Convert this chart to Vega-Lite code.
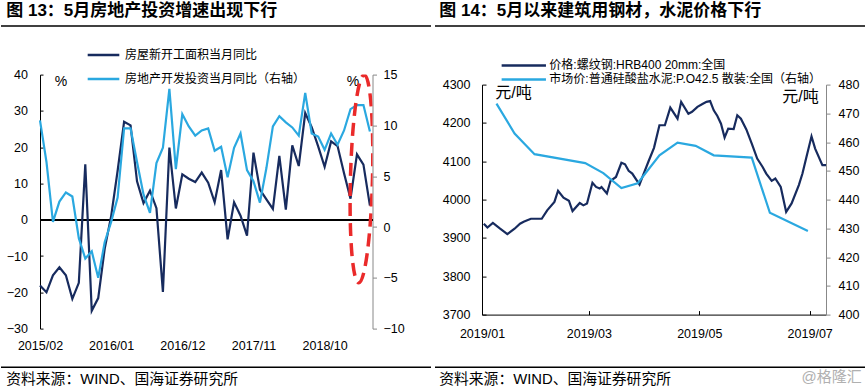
{
  "$schema": "https://vega.github.io/schema/vega-lite/v6.json",
  "background": "white",
  "padding": {"left": 0, "top": 2, "right": 0, "bottom": 0},
  "config": {
    "font": "Liberation Sans, Noto Sans CJK SC, sans-serif",
    "view": {"stroke": null},
    "axis": {"grid": false, "labelOverlap": false, "labelFontSize": 12.5, "labelColor": "#000", "domainColor": "#000", "tickColor": "#000", "titleFontWeight": "normal", "titleColor": "#000", "labelFont": "Liberation Sans, Noto Sans CJK SC, sans-serif", "titleFont": "Liberation Sans, Noto Sans CJK SC, sans-serif"},
    "legend": {"labelFont": "Liberation Sans, Noto Sans CJK SC, sans-serif", "labelColor": "#000"},
    "title": {"font": "Liberation Sans, Noto Sans CJK SC, sans-serif", "color": "#000"}
  },
  "datasets": {
    "d13": [
      {"m": "2015/02", "a": -18.1, "b": 10.5},
      {"m": "2015/03", "a": -20.0, "b": 6.4},
      {"m": "2015/04", "a": -15.3, "b": 0.5},
      {"m": "2015/05", "a": -13.1, "b": 2.5},
      {"m": "2015/06", "a": -15.3, "b": 3.4},
      {"m": "2015/07", "a": -21.8, "b": 3.0},
      {"m": "2015/08", "a": -17.4, "b": -1.1},
      {"m": "2015/09", "a": 15.3, "b": -3.1},
      {"m": "2015/10", "a": -25.1, "b": -2.4},
      {"m": "2015/11", "a": -21.6, "b": -5.0},
      {"m": "2015/12", "a": -8.0, "b": -1.5},
      {"m": "2016/01", "a": 1.0, "b": 0.5},
      {"m": "2016/02", "a": 13.5, "b": 2.9},
      {"m": "2016/03", "a": 27.0, "b": 9.7},
      {"m": "2016/04", "a": 26.0, "b": 9.7},
      {"m": "2016/05", "a": 10.6, "b": 6.4},
      {"m": "2016/06", "a": 4.6, "b": 3.2},
      {"m": "2016/07", "a": 8.0, "b": 1.4},
      {"m": "2016/08", "a": 3.2, "b": 6.3},
      {"m": "2016/09", "a": -19.9, "b": 7.8},
      {"m": "2016/10", "a": 19.9, "b": 13.6},
      {"m": "2016/11", "a": 3.1, "b": 5.7},
      {"m": "2016/12", "a": 12.5, "b": 11.1},
      {"m": "2017/01", "a": 11.3, "b": 9.9},
      {"m": "2017/02", "a": 10.4, "b": 9.0},
      {"m": "2017/03", "a": 13.0, "b": 9.5},
      {"m": "2017/04", "a": 10.2, "b": 9.7},
      {"m": "2017/05", "a": 4.8, "b": 7.5},
      {"m": "2017/06", "a": 13.7, "b": 7.9},
      {"m": "2017/07", "a": -5.4, "b": 4.9},
      {"m": "2017/08", "a": 4.8, "b": 7.8},
      {"m": "2017/09", "a": 1.1, "b": 9.2},
      {"m": "2017/10", "a": -4.4, "b": 5.6},
      {"m": "2017/11", "a": 18.5, "b": 4.5},
      {"m": "2017/12", "a": 8.3, "b": 2.4},
      {"m": "2018/01", "a": 5.6, "b": 5.8},
      {"m": "2018/02", "a": 3.0, "b": 9.9},
      {"m": "2018/03", "a": 17.6, "b": 10.9},
      {"m": "2018/04", "a": 2.8, "b": 10.3},
      {"m": "2018/05", "a": 20.5, "b": 9.8},
      {"m": "2018/06", "a": 14.8, "b": 9.0},
      {"m": "2018/07", "a": 29.4, "b": 13.2},
      {"m": "2018/08", "a": 25.5, "b": 9.2},
      {"m": "2018/09", "a": 20.2, "b": 8.9},
      {"m": "2018/10", "a": 14.6, "b": 7.6},
      {"m": "2018/11", "a": 21.6, "b": 9.2},
      {"m": "2018/12", "a": 20.3, "b": 8.1},
      {"m": "2019/01", "a": 12.8, "b": 9.5},
      {"m": "2019/02", "a": 5.8, "b": 11.6},
      {"m": "2019/03", "a": 18.0, "b": 12.0},
      {"m": "2019/04", "a": 15.2, "b": 12.0},
      {"m": "2019/05", "a": 3.9, "b": 9.4}
    ],
    "anno13": [{"m": "2019/03", "v": 4.75}],
    "rebar": [
      {"d": "2019-01-02", "v": 3937}, {"d": "2019-01-04", "v": 3927}, {"d": "2019-01-07", "v": 3939},
      {"d": "2019-01-11", "v": 3924}, {"d": "2019-01-15", "v": 3910}, {"d": "2019-01-19", "v": 3924},
      {"d": "2019-01-22", "v": 3937}, {"d": "2019-01-24", "v": 3942}, {"d": "2019-01-28", "v": 3950},
      {"d": "2019-02-03", "v": 3950}, {"d": "2019-02-06", "v": 3972}, {"d": "2019-02-10", "v": 3994},
      {"d": "2019-02-12", "v": 4023}, {"d": "2019-02-15", "v": 4005}, {"d": "2019-02-18", "v": 3997},
      {"d": "2019-02-20", "v": 3970}, {"d": "2019-02-24", "v": 3991}, {"d": "2019-02-26", "v": 3985},
      {"d": "2019-02-28", "v": 3990}, {"d": "2019-03-03", "v": 4044}, {"d": "2019-03-05", "v": 4033},
      {"d": "2019-03-07", "v": 4029}, {"d": "2019-03-08", "v": 4033}, {"d": "2019-03-11", "v": 4016},
      {"d": "2019-03-13", "v": 4049}, {"d": "2019-03-16", "v": 4059}, {"d": "2019-03-19", "v": 4096},
      {"d": "2019-03-21", "v": 4092}, {"d": "2019-03-23", "v": 4075}, {"d": "2019-03-25", "v": 4068},
      {"d": "2019-03-29", "v": 4039}, {"d": "2019-03-31", "v": 4064}, {"d": "2019-04-03", "v": 4100},
      {"d": "2019-04-06", "v": 4135}, {"d": "2019-04-09", "v": 4194}, {"d": "2019-04-12", "v": 4194},
      {"d": "2019-04-15", "v": 4240}, {"d": "2019-04-19", "v": 4211}, {"d": "2019-04-21", "v": 4255},
      {"d": "2019-04-25", "v": 4224}, {"d": "2019-04-27", "v": 4229}, {"d": "2019-04-30", "v": 4242},
      {"d": "2019-05-03", "v": 4250}, {"d": "2019-05-05", "v": 4255}, {"d": "2019-05-07", "v": 4257},
      {"d": "2019-05-09", "v": 4233}, {"d": "2019-05-11", "v": 4218}, {"d": "2019-05-13", "v": 4198},
      {"d": "2019-05-15", "v": 4162}, {"d": "2019-05-17", "v": 4185}, {"d": "2019-05-20", "v": 4184},
      {"d": "2019-05-22", "v": 4220}, {"d": "2019-05-24", "v": 4211}, {"d": "2019-05-27", "v": 4183},
      {"d": "2019-05-30", "v": 4146}, {"d": "2019-06-02", "v": 4107}, {"d": "2019-06-05", "v": 4085},
      {"d": "2019-06-07", "v": 4068}, {"d": "2019-06-10", "v": 4049}, {"d": "2019-06-12", "v": 4055},
      {"d": "2019-06-15", "v": 4033}, {"d": "2019-06-18", "v": 3968}, {"d": "2019-06-21", "v": 3990},
      {"d": "2019-06-25", "v": 4038}, {"d": "2019-06-27", "v": 4068}, {"d": "2019-06-29", "v": 4107},
      {"d": "2019-07-02", "v": 4165}, {"d": "2019-07-04", "v": 4133}, {"d": "2019-07-08", "v": 4090},
      {"d": "2019-07-10", "v": 4090}
    ],
    "cement": [
      {"d": "2019-01-09", "v": 473.4}, {"d": "2019-01-19", "v": 463.0}, {"d": "2019-01-30", "v": 455.8},
      {"d": "2019-02-27", "v": 452.7}, {"d": "2019-03-09", "v": 449.2}, {"d": "2019-03-19", "v": 444.0},
      {"d": "2019-03-28", "v": 445.7}, {"d": "2019-04-09", "v": 455.4}, {"d": "2019-04-19", "v": 459.8},
      {"d": "2019-04-29", "v": 458.7}, {"d": "2019-05-09", "v": 455.4}, {"d": "2019-05-30", "v": 454.6},
      {"d": "2019-06-09", "v": 435.4}, {"d": "2019-06-30", "v": 429.1}
    ]
  },
  "title": {"text": "@格隆汇", "orient": "bottom", "anchor": "end", "fontSize": 15, "color": "#b0b0b0", "fontWeight": "normal", "offset": -16, "dx": -7},
  "spacing": 2,
  "resolve": {"scale": {"color": "independent"}, "legend": {"color": "independent"}},
  "hconcat": [
    {
      "columns": 1,
      "align": "none",
      "spacing": 3.6,
      "resolve": {"scale": {"color": "independent"}, "legend": {"color": "independent"}},
      "concat": [
        {
          "width": 430, "height": 8,
          "title": {"text": "图 13：5月房地产投资增速出现下行", "anchor": "start", "fontSize": 17, "fontWeight": "bold", "dx": 6, "offset": 5},
          "data": {"values": [{"k": 1}]},
          "mark": {"type": "rule", "color": "#000", "strokeWidth": 1.6},
          "encoding": {"y": {"datum": 1, "type": "quantitative", "scale": {"domain": [0, 1], "nice": false, "zero": false}, "axis": null}}
        },
        {
          "spacing": 0,
          "resolve": {"scale": {"color": "independent"}, "legend": {"color": "independent"}},
          "hconcat": [
            {"width": 1, "height": 1, "data": {"values": [{}]}, "mark": {"type": "rule", "opacity": 0}, "encoding": {}},
            {
              "width": 332.5, "height": 254,
              "resolve": {"scale": {"y": "independent"}},
              "layer": [
                {
                  "data": {"name": "d13"},
                  "mark": {"type": "rule", "color": "#000", "strokeWidth": 1},
                  "encoding": {"y": {"datum": 0, "type": "quantitative", "scale": {"domain": [-30, 40], "nice": false, "zero": false}, "axis": null}}
                },
                {
                  "data": {"name": "d13"},
                  "mark": {"type": "line", "strokeWidth": 2.2},
                  "encoding": {
                    "x": {"field": "m", "type": "ordinal", "scale": {"type": "point", "padding": 0.2, "align": 0},
                      "axis": {"orient": "bottom", "values": ["2015/02", "2016/01", "2016/12", "2017/11", "2018/10"], "labelAngle": 0, "domain": false, "ticks": false, "labelPadding": 10.5, "title": null, "labelFlush": false, "minExtent": 27}},
                    "y": {"field": "a", "type": "quantitative", "scale": {"domain": [-30, 40], "nice": false, "zero": false},
                      "axis": {"orient": "left", "values": [-30, -20, -10, 0, 10, 20, 30, 40], "format": "d", "labelOverlap": false, "tickSize": -3, "labelPadding": 15.5, "minExtent": 37.5, "title": "%", "titleAngle": 0, "titleX": 20.5, "titleY": 7, "titleAlign": "center", "titleBaseline": "middle", "titleFontSize": 14}},
                    "color": {"datum": "房屋新开工面积当月同比",
                      "scale": {"domain": ["房屋新开工面积当月同比", "房地产开发投资当月同比（右轴）"], "range": ["#172B5E", "#2AA8E0"]},
                      "legend": {"orient": "none", "legendX": 46, "legendY": -37, "title": null, "symbolType": "stroke", "symbolSize": 1000, "symbolStrokeWidth": 2.5, "labelFontSize": 12, "rowPadding": 0, "labelLimit": 200, "padding": 0, "labelOffset": 4}}
                  }
                },
                {
                  "data": {"name": "d13"},
                  "mark": {"type": "line", "strokeWidth": 2.2},
                  "encoding": {
                    "x": {"field": "m", "type": "ordinal", "scale": {"type": "point", "padding": 0.2, "align": 0}},
                    "y": {"field": "b", "type": "quantitative", "scale": {"domain": [-10, 15], "nice": false, "zero": false},
                      "axis": {"orient": "right", "values": [-10, -5, 0, 5, 10, 15], "format": "d", "tickSize": 4, "labelPadding": 6.5, "domainColor": "#888888", "tickColor": "#888888", "title": "%", "titleAngle": 0, "titleX": -20, "titleY": 7, "titleAlign": "center", "titleBaseline": "middle", "titleFontSize": 14}},
                    "color": {"datum": "房地产开发投资当月同比（右轴）"}
                  }
                },
                {
                  "data": {"name": "anno13"},
                  "mark": {"type": "point", "clip": true, "shape": "M0.043,-1 C0.1015,-1 0.149,-0.552 0.149,0 C0.149,0.552 0.1015,1 0.043,1 C-0.0155,1 -0.063,0.552 -0.063,0 C-0.063,-0.552 -0.0155,-1 0.043,-1 Z", "size": 43264, "filled": false, "stroke": "#EA2A2A", "strokeWidth": 3.5, "strokeDash": [13, 7], "opacity": 1, "angle": 1.5},
                  "encoding": {
                    "x": {"field": "m", "type": "ordinal", "scale": {"type": "point", "padding": 0.2, "align": 0}},
                    "y": {"field": "v", "type": "quantitative", "scale": {"domain": [-10, 15], "nice": false, "zero": false}, "axis": null}
                  }
                }
              ]
            }
          ]
        },
        {
          "width": 430, "height": 8,
          "title": {"text": "资料来源：WIND、国海证券研究所", "orient": "bottom", "anchor": "start", "fontSize": 14.8, "fontWeight": "normal", "dx": 6, "offset": 3.5},
          "data": {"values": [{"k": 1}]},
          "mark": {"type": "rule", "color": "#000", "strokeWidth": 1.6},
          "encoding": {"y": {"datum": 0, "type": "quantitative", "scale": {"domain": [0, 1], "nice": false, "zero": false}, "axis": null}}
        }
      ]
    },
    {
      "columns": 1,
      "align": "none",
      "spacing": 3.6,
      "resolve": {"scale": {"color": "independent"}, "legend": {"color": "independent"}},
      "concat": [
        {
          "width": 433, "height": 8,
          "title": {"text": "图 14：5月以来建筑用钢材，水泥价格下行", "anchor": "start", "fontSize": 17, "fontWeight": "bold", "dx": 5, "offset": 5},
          "data": {"values": [{"k": 1}]},
          "mark": {"type": "rule", "color": "#000", "strokeWidth": 1.6},
          "encoding": {"y": {"datum": 1, "type": "quantitative", "scale": {"domain": [0, 1], "nice": false, "zero": false}, "axis": null}}
        },
        {
          "spacing": 0,
          "resolve": {"scale": {"color": "independent"}, "legend": {"color": "independent"}},
          "hconcat": [
            {"width": 1, "height": 1, "data": {"values": [{}]}, "mark": {"type": "rule", "opacity": 0}, "encoding": {}},
            {
              "width": 344, "height": 230,
              "resolve": {"scale": {"y": "independent"}},
              "layer": [
                {
                  "data": {"name": "rebar"},
                  "mark": {"type": "line", "strokeWidth": 2.2},
                  "encoding": {
                    "x": {"field": "d", "type": "temporal",
                      "scale": {"type": "utc", "domain": [{"year": 2019, "month": 1, "date": 1, "utc": true}, {"year": 2019, "month": 7, "date": 10, "utc": true}]},
                      "axis": {"orient": "bottom", "values": [{"year": 2019, "month": 1, "date": 1, "utc": true}, {"year": 2019, "month": 3, "date": 1, "utc": true}, {"year": 2019, "month": 5, "date": 1, "utc": true}, {"year": 2019, "month": 7, "date": 1, "utc": true}], "format": "%Y/%m", "labelAngle": 0, "tickSize": -4, "labelPadding": 17, "title": null, "labelFlush": false, "minExtent": 41}},
                    "y": {"field": "v", "type": "quantitative", "scale": {"domain": [3700, 4300], "nice": false, "zero": false},
                      "axis": {"orient": "left", "values": [3700, 3800, 3900, 4000, 4100, 4200, 4300], "format": "d", "tickSize": -4, "labelPadding": 16, "minExtent": 46, "title": "元/吨", "titleAngle": 0, "titleX": 31, "titleY": 8, "titleAlign": "center", "titleBaseline": "middle", "titleFontSize": 16}},
                    "color": {"datum": "价格:螺纹钢:HRB400 20mm:全国",
                      "scale": {"domain": ["价格:螺纹钢:HRB400 20mm:全国", "市场价:普通硅酸盐水泥:P.O42.5  散装:全国（右轴）"], "range": ["#172B5E", "#2AA8E0"]},
                      "legend": {"orient": "none", "legendX": 14, "legendY": -47, "title": null, "symbolType": "M-3.8,0H3.8", "symbolSize": 136, "symbolStrokeWidth": 2.5, "labelFontSize": 12, "rowPadding": 0, "labelLimit": 290, "padding": 20.3, "labelOffset": 18}}
                  }
                },
                {
                  "data": {"name": "cement"},
                  "mark": {"type": "line", "strokeWidth": 2.2},
                  "encoding": {
                    "x": {"field": "d", "type": "temporal", "scale": {"type": "utc", "domain": [{"year": 2019, "month": 1, "date": 1, "utc": true}, {"year": 2019, "month": 7, "date": 10, "utc": true}]}},
                    "y": {"field": "v", "type": "quantitative", "scale": {"domain": [400, 480], "nice": false, "zero": false},
                      "axis": {"orient": "right", "values": [400, 410, 420, 430, 440, 450, 460, 470, 480], "format": "d", "tickSize": 4, "labelPadding": 8, "domainColor": "#888888", "tickColor": "#888888", "title": "元/吨", "titleAngle": 0, "titleX": -26, "titleY": 12, "titleAlign": "center", "titleBaseline": "middle", "titleFontSize": 16}},
                    "color": {"datum": "市场价:普通硅酸盐水泥:P.O42.5  散装:全国（右轴）"}
                  }
                }
              ]
            }
          ]
        },
        {
          "width": 433, "height": 8,
          "title": {"text": "资料来源：WIND、国海证券研究所", "orient": "bottom", "anchor": "start", "fontSize": 14.8, "fontWeight": "normal", "dx": 5, "offset": 3.5},
          "data": {"values": [{"k": 1}]},
          "mark": {"type": "rule", "color": "#000", "strokeWidth": 1.6},
          "encoding": {"y": {"datum": 0, "type": "quantitative", "scale": {"domain": [0, 1], "nice": false, "zero": false}, "axis": null}}
        }
      ]
    }
  ]
}
